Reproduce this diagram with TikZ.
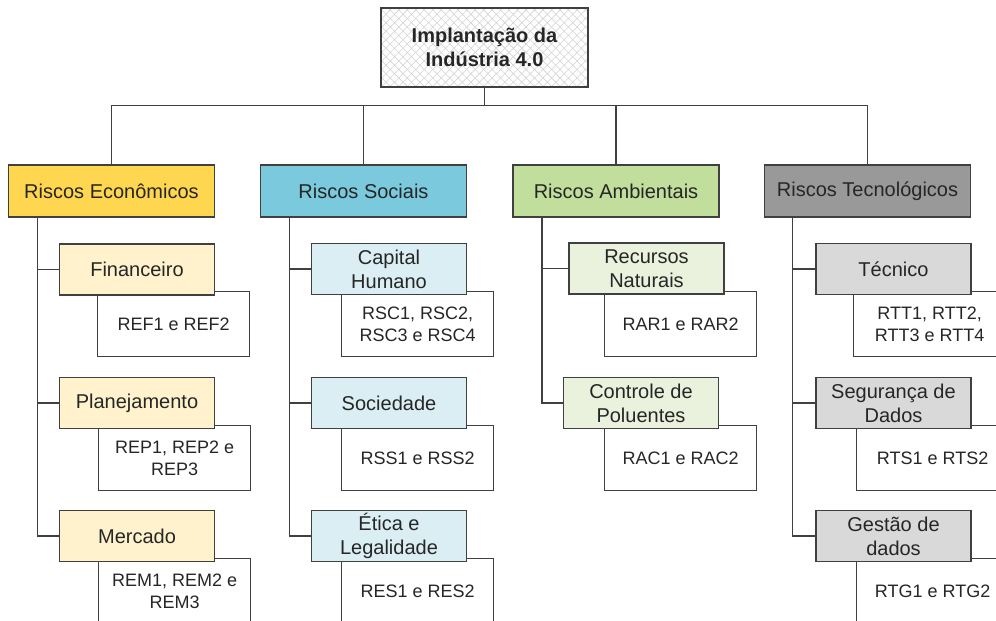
\documentclass[tikz,border=0pt]{standalone}
\usepackage{fontspec}
\setmainfont{Liberation Sans}
\usetikzlibrary{positioning,patterns.meta}
\definecolor{linegray}{HTML}{404040}
\definecolor{txtgray}{HTML}{262626}
\definecolor{econcat}{HTML}{FFD64F}
\definecolor{econsub}{HTML}{FFF2CC}
\definecolor{soccat}{HTML}{7BC9DC}
\definecolor{socsub}{HTML}{DAEEF3}
\definecolor{ambcat}{HTML}{C2DE9C}
\definecolor{ambsub}{HTML}{EAF1DD}
\definecolor{teccat}{HTML}{999999}
\definecolor{tecsub}{HTML}{D9D9D9}

\begin{document}
\begin{tikzpicture}[x=1pt, y=-1pt,
    root/.style={draw=linegray, line width=1.2pt, minimum width=207pt, minimum height=79pt, inner sep=0pt, align=center, font=\fontsize{20}{24}\selectfont\bfseries, text=txtgray,
        preaction={pattern={Lines[angle=45, distance=6pt, line width=0.6pt]}, pattern color=gray!35},
        pattern={Lines[angle=-45, distance=6pt, line width=0.6pt]}, pattern color=gray!35},
    cat/.style={draw=linegray, line width=1.2pt, minimum width=206pt, minimum height=52pt, inner sep=0pt, font=\fontsize{20}{24}\selectfont, text=txtgray},
    sub/.style={draw=linegray, line width=1.2pt, minimum width=155pt, minimum height=51pt, inner sep=0pt, align=center, font=\fontsize{20}{24}\selectfont, text=txtgray},
    ref/.style={draw=linegray, line width=1.2pt, fill=white, minimum width=152pt, minimum height=65pt, inner sep=0pt, anchor=north west, align=center, font=\fontsize{18}{22}\selectfont, text=txtgray},
    link/.style={draw=linegray, line width=1.2pt}
]
\useasboundingbox (0,0) rectangle (996,621);
\clip (0,0) rectangle (996,621);

\node[root] (top) at (484.5,47.5) {Implantação da\\Indústria 4.0};

\node[cat, fill=econcat] (econ) at (111.5,191) {Riscos Econômicos};
\node[cat, fill=soccat] (soc) at (363.5,191) {Riscos Sociais};
\node[cat, fill=ambcat] (amb) at (616,191) {Riscos Ambientais};
\node[cat, fill=teccat] (tec) at (867.5,191) {Riscos Tecnológicos};

\node[ref] (reffin) at (97,291) {REF1 e REF2};
\node[ref] (refpla) at (98,425) {REP1, REP2 e\\REP3};
\node[ref] (refmer) at (98,558) {REM1, REM2 e\\REM3};
\node[ref] (refcap) at (341,291) {RSC1, RSC2,\\RSC3 e RSC4};
\node[ref] (refsoc) at (341,425) {RSS1 e RSS2};
\node[ref] (refeti) at (341,558) {RES1 e RES2};
\node[ref] (refrec) at (604,291) {RAR1 e RAR2};
\node[ref] (refcon) at (604,425) {RAC1 e RAC2};
\node[ref] (reftec) at (853,291) {RTT1, RTT2,\\RTT3 e RTT4};
\node[ref] (refseg) at (856,425) {RTS1 e RTS2};
\node[ref] (refges) at (856,558) {RTG1 e RTG2};

\node[sub, fill=econsub] (fin) at (137,269.5) {Financeiro};
\node[sub, fill=econsub] (pla) at (137,403) {Planejamento};
\node[sub, fill=econsub] (mer) at (137,536) {Mercado};
\node[sub, fill=socsub] (cap) at (389,269) {Capital\\Humano};
\node[sub, fill=socsub] (sed) at (389,403) {Sociedade};
\node[sub, fill=socsub] (eti) at (389,536) {Ética e\\Legalidade};
\node[sub, fill=ambsub] (rec) at (646.5,268.5) {Recursos\\Naturais};
\node[sub, fill=ambsub] (con) at (641,403) {Controle de\\Poluentes};
\node[sub, fill=tecsub] (tecn) at (893.5,269) {Técnico};
\node[sub, fill=tecsub] (seg) at (893.5,403) {Segurança de\\Dados};
\node[sub, fill=tecsub] (ges) at (893.5,536) {Gestão de\\dados};

\draw[link] (top.south) -- ++(0,18) coordinate (bus);
\draw[link] (bus) -| (econ.north);
\draw[link] (bus) -| (soc.north);
\draw[link] (bus) -| (amb.north);
\draw[link] (bus) -| (tec.north);

\draw[link] ([xshift=-74pt]econ.south) |- (fin.west);
\draw[link] ([xshift=-74pt]econ.south) |- (pla.west);
\draw[link] ([xshift=-74pt]econ.south) |- (mer.west);
\draw[link] ([xshift=-74pt]soc.south) |- (cap.west);
\draw[link] ([xshift=-74pt]soc.south) |- (sed.west);
\draw[link] ([xshift=-74pt]soc.south) |- (eti.west);
\draw[link] ([xshift=-74pt]amb.south) |- (rec.west);
\draw[link] ([xshift=-74pt]amb.south) |- (con.west);
\draw[link] ([xshift=-75pt]tec.south) |- (tecn.west);
\draw[link] ([xshift=-75pt]tec.south) |- (seg.west);
\draw[link] ([xshift=-75pt]tec.south) |- (ges.west);
\end{tikzpicture}
\end{document}
